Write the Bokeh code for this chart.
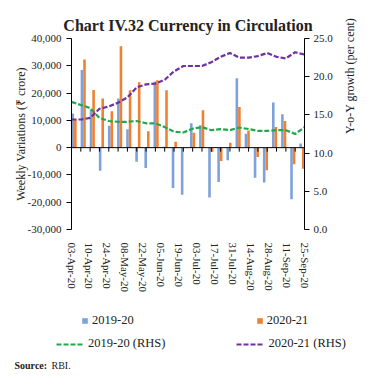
import math
from bokeh.plotting import figure
from bokeh.layouts import column
from bokeh.models import (Range1d, LinearAxis, FixedTicker, NumeralTickFormatter, Plot,
                          Legend, LegendItem, Label, ColumnDataSource, Span)
from bokeh.embed import file_html
from bokeh.resources import INLINE

# ---------------- data ----------------
weeks = ["03-Apr-20", "10-Apr-20", "17-Apr-20", "24-Apr-20", "01-May-20", "08-May-20",
         "15-May-20", "22-May-20", "29-May-20", "05-Jun-20", "12-Jun-20", "19-Jun-20",
         "26-Jun-20", "03-Jul-20", "10-Jul-20", "17-Jul-20", "24-Jul-20", "31-Jul-20",
         "07-Aug-20", "14-Aug-20", "21-Aug-20", "28-Aug-20", "04-Sep-20", "11-Sep-20",
         "18-Sep-20", "25-Sep-20"]
tick_labels = ["03-Apr-20", "10-Apr-20", "24-Apr-20", "08-May-20", "22-May-20", "05-Jun-20",
               "19-Jun-20", "03-Jul-20", "17-Jul-20", "31-Jul-20", "14-Aug-20", "28-Aug-20",
               "11-Sep-20", "25-Sep-20"]
var_2019 = [12500, 28500, 14000, -8500, 8000, 18000, 6700, -5200, -7500, 24200, 300, -14800,
            -17300, 8900, 8200, -18300, -12600, -4600, 25400, 5100, -11000, -12800, 16500,
            12200, -18900, 1500]
var_2020 = [10200, 32300, 21100, 18000, 13300, 37200, 21000, 24000, 6000, 24700, 21000, 2200,
            0, 5500, 13700, -1600, -4900, 1800, 14900, 6300, -3400, -8300, 7600, 9800,
            -6100, -7700]
yoy_2019 = [16.7, 16.3, 15.9, 14.6, 14.2, 14.1, 14.1, 14.2, 13.9, 13.9, 13.4, 12.8, 12.7,
            13.2, 13.4, 13.0, 13.15, 13.0, 13.35, 13.15, 12.9, 12.9, 13.0, 13.0, 12.5, 13.4]
yoy_2020 = [14.4, 14.4, 14.6, 15.8, 16.1, 16.6, 17.3, 18.6, 19.0, 19.1, 19.6, 20.7, 21.4,
            21.4, 21.4, 21.9, 22.6, 23.1, 22.5, 22.5, 22.7, 23.1, 22.6, 22.4, 23.2, 22.9]
left_ticks = [-30000, -20000, -10000, 0, 10000, 20000, 30000, 40000]
right_ticks = [0, 5, 10, 15, 20, 25]

# ---------------- styling / layout ----------------
FONT = "Liberation Serif"
BLUE = "#7EA1DB"
ORANGE = "#F0812E"
GREEN = "#1FA84F"
PURPLE = "#7030A0"
TXT = "#222222"

n = len(weeks)
STEP = len(tick_labels) - 1          # units per category
LSTEP = n - 1                        # units per label interval
XMAX = (n - 1) * STEP
PW = 7.2                             # width of a bar pair
xs = [i * STEP for i in range(n)]
starts = [i * (XMAX - PW) / (n - 1) for i in range(n)]
bx = [s + PW / 4 for s in starts]
ox = [s + 3 * PW / 4 for s in starts]
label_pos = [i * LSTEP for i in range(len(tick_labels))]

src = ColumnDataSource(dict(bx=bx, ox=ox, xs=xs, v19=var_2019, v20=var_2020,
                            y19=yoy_2019, y20=yoy_2020))

p = figure(width=366, height=300, output_backend="svg", toolbar_location=None,
           x_range=Range1d(0, XMAX), y_range=Range1d(-30000, 40000),
           x_axis_type=None, y_axis_type=None,
           min_border_left=71, min_border_right=61, min_border_top=38, min_border_bottom=71)
p.extra_y_ranges = {"rhs": Range1d(0, 25)}
p.outline_line_color = None
p.background_fill_color = "white"
p.border_fill_color = "white"

p.title.text = "Chart IV.32 Currency in Circulation"
p.title.align = "center"
p.title.text_font = FONT
p.title.text_font_size = "16px"
p.title.text_color = TXT
p.title.offset = -3

def style_axis(ax):
    ax.major_label_text_font = FONT
    ax.major_label_text_font_size = "11px"
    ax.major_label_text_color = TXT
    ax.axis_label_text_font = FONT
    ax.axis_label_text_font_size = "12px"
    ax.axis_label_text_font_style = "normal"
    ax.axis_label_text_color = TXT
    ax.axis_line_color = "black"
    ax.major_tick_line_color = "black"
    ax.major_tick_in = 0
    ax.major_tick_out = 5
    ax.minor_tick_line_color = None

la = LinearAxis(ticker=FixedTicker(ticks=left_ticks), formatter=NumeralTickFormatter(format="0,0"),
                axis_label="Weekly Variations (\u20b9 crore)")
style_axis(la)
la.axis_label_standoff = -3
p.add_layout(la, "left")

ra = LinearAxis(y_range_name="rhs", ticker=FixedTicker(ticks=right_ticks),
                formatter=NumeralTickFormatter(format="0.0"),
                axis_label="Y-o-Y growth (per cent)")
style_axis(ra)
ra.major_label_standoff = 4
ra.axis_label_standoff = 14
if "axis_label_orientation" in LinearAxis.properties():
    ra.axis_label_orientation = math.pi / 2
p.add_layout(ra, "right")

# date labels
xa = LinearAxis(ticker=FixedTicker(ticks=label_pos),
                major_label_overrides={pos: lab for pos, lab in zip(label_pos, tick_labels)})
style_axis(xa)
xa.axis_line_color = None
xa.major_tick_line_color = None
xa.major_label_orientation = "vertical"
xa.major_label_standoff = 8
p.add_layout(xa, "below")

rb = p.vbar(x="bx", top="v19", bottom=0, width=PW / 2, source=src,
            fill_color=BLUE, line_color=None)
ro = p.vbar(x="ox", top="v20", bottom=0, width=PW / 2, source=src,
            fill_color=ORANGE, line_color=None)

# zero line with category tick marks
p.add_layout(Span(location=0, dimension="width", line_color="black", line_width=1))
p.ray(x="xs", y=0, length=4, length_units="screen", angle=-math.pi / 2, source=src,
      line_color="black", line_width=1)

lg = p.line("xs", "y19", source=src, y_range_name="rhs", line_color=GREEN,
            line_width=2.2, line_dash="5 2")
lp = p.line("xs", "y20", source=src, y_range_name="rhs", line_color=PURPLE,
            line_width=2.2, line_dash="5 2")

# ---------------- legend / source strip ----------------
q = figure(width=366, height=70, output_backend="svg", toolbar_location=None,
           x_range=Range1d(0, 366), y_range=Range1d(0, 70),
           x_axis_type=None, y_axis_type=None, min_border=0,
           min_border_left=0, min_border_right=0, min_border_top=0, min_border_bottom=0)
q.outline_line_color = None
q.background_fill_color = "white"
q.border_fill_color = "white"
if "frame_align" in Plot.properties():
    q.frame_align = False
    p.frame_align = False

nan = float("nan")
kb = q.vbar(x=[nan], top=[nan], width=1, fill_color=BLUE, line_color=None)
ko = q.vbar(x=[nan], top=[nan], width=1, fill_color=ORANGE, line_color=None)
kg = q.line(x=[nan, nan], y=[nan, nan], line_color=GREEN, line_width=2.2, line_dash="5 2")
kp = q.line(x=[nan, nan], y=[nan, nan], line_color=PURPLE, line_width=2.2, line_dash="5 2")

def mk_legend(items, spacing, gw, gh, loc):
    return Legend(items=items, orientation="horizontal", location=loc,
                  spacing=spacing, glyph_width=gw, glyph_height=gh, label_standoff=4,
                  border_line_color=None, background_fill_alpha=0, padding=0, margin=0,
                  label_text_font=FONT, label_text_font_size="12.5px",
                  label_text_color=TXT, label_height=14)

leg1 = mk_legend([LegendItem(label="2019-20", renderers=[kb]),
                  LegendItem(label="2020-21", renderers=[ko])], 122, 7, 7, (81, 42))
leg2 = mk_legend([LegendItem(label="2019-20 (RHS)", renderers=[kg]),
                  LegendItem(label="2020-21 (RHS)", renderers=[kp])], 71, 28, 14, (56, 19))
q.add_layout(leg1)
q.add_layout(leg2)

s1 = Label(x=14, y=0, x_units="screen", y_units="screen", text="Source:",
           text_font=FONT, text_font_size="10px", text_font_style="bold", text_color=TXT)
s2 = Label(x=51, y=0, x_units="screen", y_units="screen", text="RBI.",
           text_font=FONT, text_font_size="10px", text_color=TXT)
q.add_layout(s1)
q.add_layout(s2)

layout = column(p, q, spacing=0)
open("out.html", "w").write(file_html(layout, INLINE))
